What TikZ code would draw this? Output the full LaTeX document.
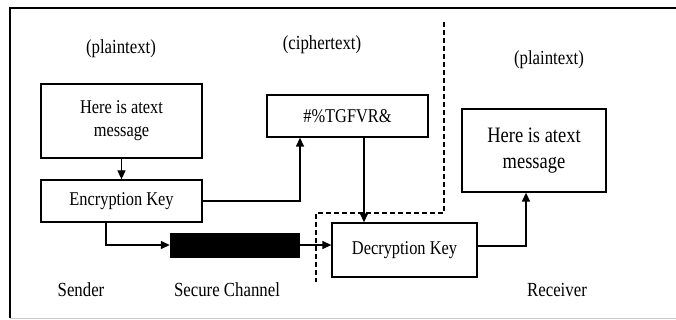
\documentclass[tikz,border=0pt]{standalone}
\usepackage{fontspec}
\setmainfont{Liberation Serif}[FakeStretch=0.84]
\usetikzlibrary{arrows.meta}
\begin{document}
\begin{tikzpicture}[x=1pt,y=-1pt,
  box/.style={draw,line width=1.3pt,inner sep=0pt,align=center,font=\fontsize{19.5}{23}\selectfont},
  lbl/.style={font=\fontsize{20}{23}\selectfont,inner sep=0pt},
  arr/.style={line width=1.3pt,-{Triangle[length=9pt,width=8pt]}},
  sep/.style={line width=1.1pt,dash pattern=on 5pt off 3pt}]
\useasboundingbox (0,0) rectangle (676,320);
\draw[line width=2pt] (10,318) -- (10,8) -- (677,8);
\draw[line width=1pt,black!20] (10,318) -- (677,318);
% boxes
\node[box,minimum width=161pt,minimum height=74pt] (p1) at (121.5,121) {Here is atext\\message};
\node[box,minimum width=161pt,minimum height=42pt] (ek) at (121.5,201) {Encryption Key};
\node[box,minimum width=161pt,minimum height=42pt] (ct) at (347.5,116) {\#\%TGFVR\&};
\node[draw,fill=black,minimum width=129pt,minimum height=24pt,inner sep=0pt] (sc) at (234.5,245) {};
\node[box,minimum width=145pt,minimum height=54pt] (dk) at (404.5,250) {Decryption Key};
\node[box,minimum width=144pt,minimum height=83pt,font=\fontsize{22}{26}\selectfont] (p2) at (534,150.5) {Here is atext\\message};
% labels
\node[lbl] (l1) at (121,49) {(plaintext)};
\node[lbl] (l2) at (322,45) {(ciphertext)};
\node[lbl] (l3) at (549,60) {(plaintext)};
\node[lbl] (l4) at (81,290) {Sender};
\node[lbl] (l5) at (227,290) {Secure Channel};
\node[lbl] (l6) at (557,290) {Receiver};
% arrows
\draw[arr] (p1.south) -- (ek.north);
\draw[arr] (ek.east) -| (300,0 |- ct.south) coordinate (c1);
\coordinate (a1) at (106,222);
\coordinate (a2) at (364,137);
\coordinate (a3) at (526,192);
\draw[arr] (ek.south -| a1) |- (sc.west);
\draw[arr] (sc.east) -- (dk.west |- sc.east);
\draw[arr] (ct.south -| a2) -- (dk.north -| a2);
\draw[arr] (dk.east |- 0,246) -| (p2.south -| a3);
% dashed separator
\coordinate (d1) at (444,22);
\coordinate (d2) at (444,213);
\coordinate (d3) at (316,213);
\coordinate (d4) at (316,282);
\draw[sep] (d1) -- (d2) -- (d3) -- (d4);
\end{tikzpicture}
\end{document}
